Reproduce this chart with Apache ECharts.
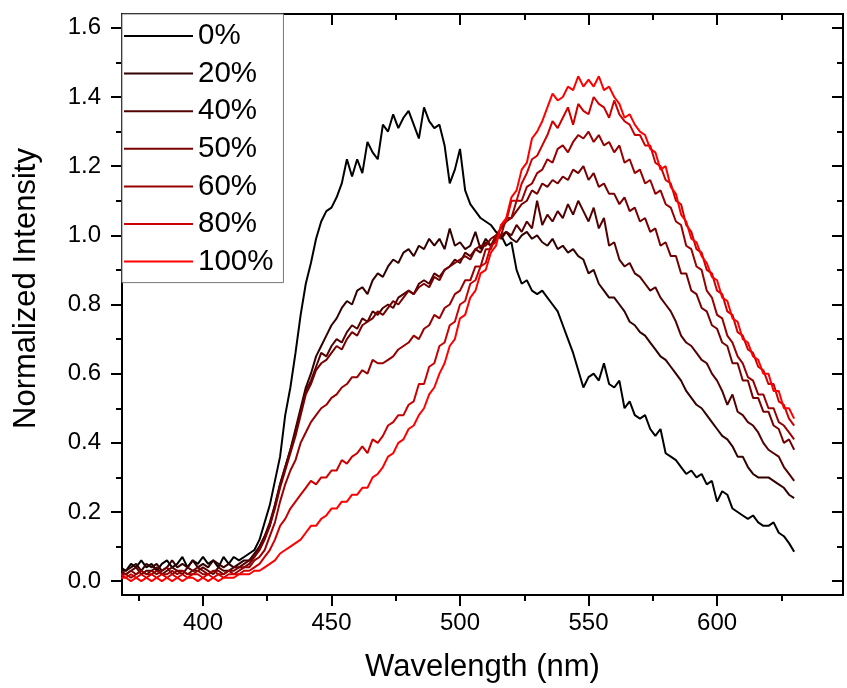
<!DOCTYPE html>
<html>
<head>
<meta charset="utf-8">
<script src="https://cdn.jsdelivr.net/npm/echarts@6/dist/echarts.min.js"></script>
<style>
html,body{margin:0;padding:0;background:#fff;}
#chart{width:847px;height:688px;}
</style>
</head>
<body>
<div id="chart"></div>
<script>
// Wavelength grid (nm), 368..630 step 2
const wavelength = Array.from({length: 132}, (_, i) => 368 + 2 * i);

const seriesNames = ['0%', '20%', '40%', '50%', '60%', '80%', '100%'];
const seriesColors = ['#000000', '#330000', '#550000', '#770000', '#990000', '#cc0000', '#ff0000'];

const xMajorTicks = [400, 450, 500, 550, 600];
const xMinorTicks = [375, 425, 475, 525, 575, 625];
const yMajorTicks = [0, 0.2, 0.4, 0.6, 0.8, 1.0, 1.2, 1.4, 1.6];
const yMinorTicks = [0.1, 0.3, 0.5, 0.7, 0.9, 1.1, 1.3, 1.5];

const p0 = [0.04,
0.03,0.05,0.04,0.06,0.04, 0.05,0.03,0.05,0.06,0.04, 0.05,0.07,0.04,0.06,0.05,
0.07,0.05,0.06,0.04,0.07, 0.05,0.07,0.06,0.07,0.08, 0.09,0.12,0.17,0.22,0.29,
0.36,0.48,0.56,0.66,0.77, 0.86,0.92,0.99,1.04,1.07, 1.08,1.11,1.15,1.22,1.17,
1.22,1.18,1.27,1.24,1.22, 1.32,1.30,1.35,1.31,1.34, 1.36,1.32,1.28,1.37,1.33,
1.31,1.32,1.26,1.15,1.19, 1.25,1.13,1.09,1.07,1.05, 1.04,1.03,1.01,1.00,0.97,
0.98,0.90,0.86,0.87,0.84, 0.83,0.84,0.82,0.80,0.78, 0.74,0.70,0.66,0.61,0.56,
0.59,0.60,0.58,0.63,0.57, 0.56,0.58,0.50,0.52,0.48, 0.47,0.48,0.44,0.42,0.44,
0.37,0.36,0.35,0.33,0.31, 0.32,0.30,0.31,0.28,0.29, 0.23,0.26,0.25,0.21,0.20,
0.19,0.18,0.19,0.17,0.16, 0.16,0.17,0.14,0.13,0.11, 0.085];

const p20 = [0.03,
0.03,0.04,0.05,0.03,0.05, 0.04,0.05,0.03,0.04,0.06, 0.04,0.05,0.04,0.06,0.04,
0.05,0.04,0.06,0.05,0.04, 0.05,0.04,0.05,0.06,0.06, 0.08,0.10,0.13,0.16,0.22,
0.28,0.33,0.38,0.44,0.50, 0.56,0.60,0.65,0.68,0.71, 0.74,0.76,0.79,0.81,0.80,
0.84,0.85,0.83,0.87,0.89, 0.88,0.91,0.93,0.92,0.95, 0.96,0.94,0.97,0.96,0.99,
0.97,0.99,0.96,1.02,0.97, 0.98,0.96,0.97,1.01,0.96, 0.99,0.97,0.99,1.00,1.01,
0.99,0.98,1.00,1.01,0.99, 1.00,0.98,0.97,0.99,0.96, 0.97,0.95,0.96,0.94,0.93,
0.89,0.90,0.86,0.84,0.82, 0.82,0.80,0.78,0.75,0.74, 0.72,0.71,0.69,0.67,0.65,
0.64,0.62,0.60,0.58,0.55, 0.53,0.51,0.50,0.48,0.46, 0.44,0.42,0.41,0.39,0.36,
0.36,0.33,0.31,0.30,0.30, 0.30,0.29,0.28,0.27,0.25, 0.24];

const p40 = [0.03,
0.02,0.03,0.04,0.02,0.03, 0.03,0.04,0.02,0.03,0.04, 0.03,0.02,0.04,0.03,0.03,
0.04,0.03,0.02,0.04,0.03, 0.03,0.04,0.04,0.05,0.06, 0.07,0.10,0.13,0.17,0.22,
0.28,0.33,0.38,0.43,0.49, 0.55,0.58,0.62,0.66,0.65, 0.68,0.70,0.69,0.72,0.74,
0.73,0.76,0.75,0.78,0.77, 0.79,0.80,0.79,0.82,0.83, 0.84,0.83,0.86,0.87,0.86,
0.89,0.88,0.90,0.91,0.93, 0.92,0.95,0.94,0.96,0.95, 0.98,0.97,1.00,0.99,1.01,
1.00,1.03,1.01,1.04,1.02, 1.10,1.03,1.06,1.04,1.07, 1.05,1.09,1.06,1.10,1.07,
1.04,1.08,1.02,1.05,0.97, 0.98,0.93,0.91,0.92,0.89, 0.88,0.86,0.84,0.85,0.82,
0.80,0.78,0.75,0.71,0.69, 0.68,0.66,0.64,0.63,0.60, 0.58,0.55,0.51,0.54,0.49,
0.48,0.46,0.45,0.43,0.40, 0.38,0.37,0.36,0.33,0.31, 0.29];

const p50 = [0.02,
0.02,0.03,0.02,0.03,0.02, 0.03,0.02,0.03,0.04,0.02, 0.03,0.03,0.02,0.03,0.04,
0.03,0.02,0.03,0.03,0.02, 0.03,0.03,0.04,0.04,0.05, 0.07,0.09,0.12,0.16,0.21,
0.27,0.32,0.37,0.42,0.48, 0.54,0.57,0.61,0.63,0.64, 0.66,0.68,0.67,0.70,0.72,
0.71,0.74,0.75,0.76,0.78, 0.77,0.79,0.81,0.80,0.82, 0.84,0.83,0.85,0.86,0.85,
0.88,0.87,0.90,0.91,0.92, 0.93,0.94,0.93,0.96,0.97, 0.97,0.99,1.00,1.02,1.04,
1.05,1.07,1.09,1.10,1.13, 1.12,1.15,1.14,1.16,1.15, 1.17,1.16,1.19,1.18,1.20,
1.16,1.18,1.14,1.15,1.12, 1.12,1.09,1.11,1.07,1.08, 1.04,1.05,1.01,1.02,0.97,
0.98,0.94,0.94,0.89,0.89, 0.84,0.83,0.79,0.78,0.74, 0.73,0.69,0.68,0.63,0.63,
0.58,0.58,0.53,0.53,0.49, 0.49,0.45,0.44,0.40,0.41, 0.38];

const p60 = [0.02,
0.02,0.01,0.02,0.03,0.02, 0.02,0.03,0.02,0.02,0.03, 0.02,0.03,0.02,0.02,0.03,
0.02,0.02,0.03,0.02,0.02, 0.03,0.02,0.03,0.04,0.04, 0.06,0.07,0.09,0.13,0.17,
0.23,0.28,0.32,0.35,0.40, 0.43,0.46,0.48,0.50,0.51, 0.53,0.54,0.56,0.57,0.59,
0.59,0.61,0.60,0.64,0.63, 0.63,0.64,0.65,0.67,0.68, 0.69,0.71,0.70,0.73,0.74,
0.77,0.76,0.79,0.80,0.83, 0.84,0.87,0.87,0.91,0.91, 0.96,0.96,1.00,1.00,1.05,
1.05,1.10,1.10,1.14,1.15, 1.18,1.19,1.22,1.21,1.25, 1.26,1.24,1.27,1.29,1.28,
1.30,1.27,1.29,1.26,1.27, 1.24,1.26,1.21,1.22,1.18, 1.19,1.15,1.16,1.12,1.13,
1.09,1.08,1.04,1.03,0.97, 0.96,0.91,0.90,0.84,0.82, 0.77,0.76,0.71,0.69,0.65,
0.63,0.59,0.58,0.54,0.54, 0.50,0.50,0.46,0.45,0.43, 0.41];

const p80 = [0.02,
0.01,0.02,0.01,0.02,0.01, 0.02,0.01,0.02,0.01,0.02, 0.01,0.02,0.01,0.02,0.02,
0.01,0.02,0.01,0.02,0.01, 0.02,0.02,0.02,0.03,0.03, 0.04,0.05,0.07,0.09,0.12,
0.16,0.18,0.21,0.23,0.25, 0.27,0.29,0.28,0.30,0.30, 0.32,0.32,0.35,0.34,0.36,
0.37,0.39,0.37,0.41,0.40, 0.42,0.45,0.46,0.48,0.48, 0.51,0.52,0.57,0.57,0.62,
0.63,0.68,0.69,0.74,0.75, 0.80,0.81,0.86,0.87,0.91, 0.92,0.97,0.98,1.03,1.04,
1.10,1.10,1.15,1.18,1.22, 1.23,1.26,1.29,1.33,1.31, 1.34,1.37,1.32,1.38,1.36,
1.35,1.40,1.38,1.37,1.34, 1.39,1.35,1.33,1.32,1.29, 1.29,1.26,1.26,1.21,1.20,
1.16,1.15,1.10,1.09,1.03, 1.01,0.96,0.95,0.90,0.89, 0.84,0.83,0.78,0.77,0.72,
0.71,0.67,0.66,0.62,0.61, 0.57,0.57,0.52,0.51,0.47, 0.45];

const p100 = [0.01,
0.01,0.00,0.01,0.00,0.01, 0.00,0.01,0.00,0.01,0.00, 0.01,0.00,0.01,0.01,0.00,
0.01,0.00,0.01,0.00,0.01, 0.01,0.01,0.02,0.02,0.02, 0.03,0.03,0.04,0.05,0.06,
0.08,0.09,0.10,0.11,0.12, 0.14,0.16,0.16,0.18,0.19, 0.21,0.21,0.23,0.23,0.25,
0.25,0.27,0.27,0.30,0.31, 0.33,0.36,0.37,0.40,0.41, 0.44,0.45,0.48,0.50,0.54,
0.56,0.60,0.63,0.68,0.70, 0.76,0.77,0.82,0.84,0.89, 0.90,0.95,0.97,1.03,1.05,
1.11,1.13,1.19,1.21,1.28, 1.30,1.33,1.37,1.41,1.39, 1.40,1.43,1.42,1.46,1.43,
1.45,1.43,1.46,1.42,1.43, 1.40,1.38,1.34,1.35,1.32, 1.30,1.29,1.25,1.24,1.19,
1.20,1.14,1.12,1.06,1.04, 0.99,0.98,0.94,0.92,0.88, 0.87,0.82,0.81,0.76,0.75,
0.70,0.69,0.65,0.64,0.60, 0.60,0.55,0.55,0.50,0.50, 0.47];

const seriesValues = [p0, p20, p40, p50, p60, p80, p100];

const FONT = "'Liberation Sans', Arial, sans-serif";
const X_MIN = 368.5, X_MAX = 649;
const Y_MIN = -0.04, Y_MAX = 1.64;

const chart = echarts.init(document.getElementById('chart'), null, {renderer: 'canvas'});

const frameLine = {show: true, onZero: false, lineStyle: {color: '#000', width: 2}};
function xAx(position, ticks, len, inside, labels, extra) {
  return Object.assign({
    type: 'value', position: position, min: X_MIN, max: X_MAX,
    axisLine: frameLine,
    axisTick: {show: true, inside: inside, length: len, customValues: ticks, lineStyle: {color: '#000', width: 2}},
    axisLabel: labels ? {show: true, customValues: ticks, fontSize: 24, color: '#000', fontFamily: FONT, margin: 16} : {show: false},
    splitLine: {show: false}
  }, extra || {});
}
function yAx(position, ticks, len, inside, labels, extra) {
  return Object.assign({
    type: 'value', position: position, min: Y_MIN, max: Y_MAX,
    axisLine: frameLine,
    axisTick: {show: true, inside: inside, length: len, customValues: ticks, lineStyle: {color: '#000', width: 2}},
    axisLabel: labels ? {show: true, customValues: ticks, fontSize: 24, color: '#000', fontFamily: FONT, margin: 21,
      formatter: v => Number(v).toFixed(1)} : {show: false},
    splitLine: {show: false}
  }, extra || {});
}

const option = {
  animation: false,
  backgroundColor: '#fff',
  grid: {left: 122, right: 4, top: 14, bottom: 91, containLabel: false},
  xAxis: [
    xAx('bottom', xMajorTicks, 11, false, true, {
      name: 'Wavelength (nm)', nameLocation: 'middle', nameGap: 57,
      nameTextStyle: {fontSize: 31, color: '#000', fontFamily: FONT}
    }),
    xAx('bottom', xMinorTicks, 6, false, false),
    xAx('top', xMajorTicks, 11, true, false),
    xAx('top', xMinorTicks, 6, true, false)
  ],
  yAxis: [
    yAx('left', yMajorTicks, 11, false, true, {
      name: 'Normalized Intensity', nameLocation: 'middle', nameGap: 80,
      nameTextStyle: {fontSize: 31, color: '#000', fontFamily: FONT, padding: [0, 0, 0, 32]}
    }),
    yAx('left', yMinorTicks, 6, false, false),
    yAx('right', yMajorTicks, 11, true, false),
    yAx('right', yMinorTicks, 6, true, false)
  ],
  legend: {
    show: true, orient: 'vertical', left: 122, top: 14,
    padding: [7, 10, 6, 2], itemGap: 7.6, itemWidth: 69, itemHeight: 2, icon: 'rect',
    backgroundColor: '#fff', borderColor: '#777', borderWidth: 1,
    textStyle: {fontSize: 29.5, lineHeight: 28, color: '#000', fontFamily: FONT},
    data: seriesNames
  },
  series: seriesNames.map((name, k) => ({
    name: name, type: 'line', xAxisIndex: 0, yAxisIndex: 0,
    symbol: 'none', smooth: false,
    lineStyle: {color: seriesColors[k], width: 2},
    itemStyle: {color: seriesColors[k]},
    data: wavelength.map((w, i) => [w, seriesValues[k][i]])
  }))
};
chart.setOption(option);
</script>
</body>
</html>
